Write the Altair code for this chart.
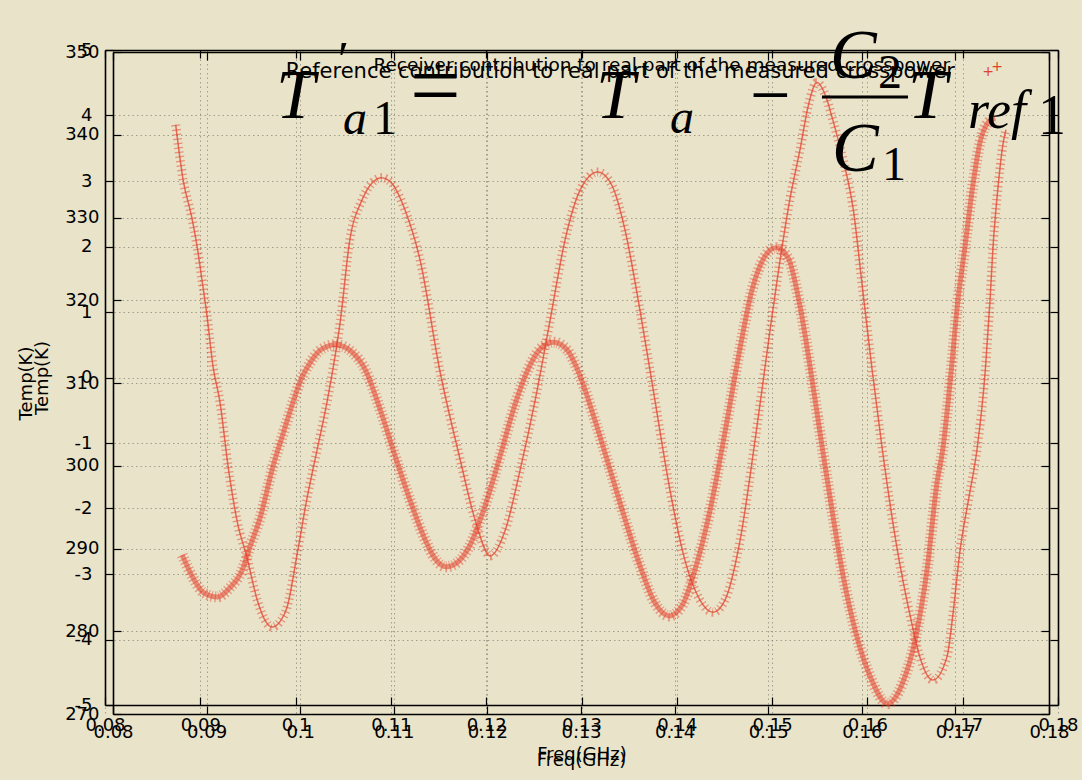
import altair as alt
import pandas as pd

# ---------------- data ----------------
# Curve on the Temp(K) 270-350 axis (sparse "+" markers)
freq_a = [0.0867, 0.0875, 0.0884, 0.0890, 0.0895, 0.0900, 0.0907, 0.0914, 0.0923, 0.0933,
          0.0943, 0.0954, 0.0962, 0.0970, 0.0978, 0.0986, 0.0997, 0.1007, 0.1018, 0.1029,
          0.1043, 0.1053, 0.1066, 0.1077, 0.1087, 0.1098, 0.1112, 0.1128, 0.1149, 0.1171,
          0.1187, 0.1203, 0.1219, 0.1235, 0.1251, 0.1267, 0.1283, 0.1299, 0.1318, 0.1333,
          0.1347, 0.1363, 0.1379, 0.1395, 0.1411, 0.1427, 0.1441, 0.1454, 0.1470, 0.1486,
          0.1502, 0.1516, 0.1523, 0.1534, 0.1543, 0.1552, 0.1561, 0.1569, 0.1580, 0.1591,
          0.1601, 0.1611, 0.1622, 0.1638, 0.1652, 0.1662, 0.1676, 0.1691, 0.1697, 0.1705,
          0.1714, 0.1723, 0.1732, 0.1737, 0.1740, 0.1746, 0.1751, 0.1754]
temp_a = [341.2, 334.5, 330.1, 326.4, 322.5, 318.5, 311.9, 307.9, 299.9, 293.1,
          289.0, 283.8, 281.4, 280.5, 281.1, 282.9, 289.5, 295.9, 301.9, 307.9,
          317.6, 327.3, 332.1, 334.2, 334.8, 334.1, 330.9, 324.9, 311.6, 300.7,
          293.4, 289.1, 292.2, 299.5, 307.9, 317.6, 327.3, 333.3, 335.5, 333.9,
          328.5, 318.8, 307.9, 297.1, 288.6, 283.8, 282.3, 283.8, 291.0, 303.1,
          316.4, 327.3, 332.1, 338.2, 343.6, 346.3, 344.8, 341.8, 337.0, 330.9,
          321.2, 311.6, 301.9, 289.8, 281.7, 276.9, 274.1, 276.9, 281.7, 289.8,
          295.9, 301.9, 311.6, 320.0, 326.1, 334.2, 339.0, 340.6]

# Curve on the -5..5 axis (dense "+" markers)
freq_b = [0.0881, 0.0892, 0.0903, 0.0918, 0.0931, 0.0944, 0.0952, 0.0963, 0.0976, 0.0987,
          0.0997, 0.1005, 0.1015, 0.1026, 0.1042, 0.1059, 0.1073, 0.1089, 0.1104, 0.1120,
          0.1136, 0.1146, 0.1158, 0.1170, 0.1183, 0.1199, 0.1215, 0.1230, 0.1246, 0.1259,
          0.1271, 0.1285, 0.1298, 0.1314, 0.1330, 0.1346, 0.1361, 0.1377, 0.1392, 0.1406,
          0.1419, 0.1435, 0.1451, 0.1466, 0.1479, 0.1492, 0.1504, 0.1517, 0.1529, 0.1542,
          0.1553, 0.1564, 0.1574, 0.1589, 0.1603, 0.1621, 0.1637, 0.1650, 0.1663, 0.1673,
          0.1679, 0.1687, 0.1695, 0.1702, 0.1711, 0.1718, 0.1727, 0.1734]
val_b = [-2.71, -3.05, -3.28, -3.35, -3.21, -2.94, -2.59, -2.13, -1.37, -0.85,
         -0.39, -0.05, 0.22, 0.42, 0.50, 0.39, 0.12, -0.50, -1.18, -1.87,
         -2.48, -2.76, -2.89, -2.82, -2.56, -1.95, -1.18, -0.42, 0.19, 0.47,
         0.54, 0.42, 0.04, -0.65, -1.41, -2.18, -2.86, -3.44, -3.64, -3.47,
         -2.94, -2.02, -0.80, 0.42, 1.34, 1.84, 1.98, 1.82, 1.11, -0.04,
         -1.11, -2.13, -2.99, -3.96, -4.57, -4.98, -4.66, -4.01, -2.89, -1.61,
         -1.11, -0.04, 1.18, 1.95, 2.97, 3.58, 3.90, 3.96]

x_ticks = [0.08, 0.09, 0.1, 0.11, 0.12, 0.13, 0.14, 0.15, 0.16, 0.17, 0.18]
ya_ticks = [270, 280, 290, 300, 310, 320, 330, 340, 350]
yb_ticks = [-5, -4, -3, -2, -1, 0, 1, 2, 3, 4, 5]
legend_texts = ["Receiver contribution to real part of the measured crosspower",
                "Reference contribution to real part of the measured crosspower"]
x_title = "Freq(GHz)"
y_title = "Temp(K)"
formula_parts = ["T", "\u2032", "a", "1", "=", "T", "a", "\u2212", "C", "2", "C", "1", "T", "ref", "1"]

# ---------------- styling ----------------
W, H = 953, 664          # plot group: x 105..1058, y 50..714
OX, OY = 105, 50
BG = "#E8E3C9"
RED = "#E4412C"
FONT = "DejaVu Sans"
SERIF = "Liberation Serif"
PLAIN = "datum.value + ''"   # plain hyphen-minus labels, as in the reference

dfa = pd.DataFrame({"f": freq_a, "t": temp_a})
dfb = pd.DataFrame({"f": freq_b, "v": val_b})

common = dict(domainColor="black", tickColor="black", labelColor="black",
              labelFont=FONT, labelFontSize=18, titleFont=FONT, titleFontSize=18,
              titleFontWeight="normal", titleColor="black", labelFlush=False,
              labelOverlap=False, labelBound=False, labelExpr=PLAIN)
grid = dict(grid=True, gridDash=[1.5, 3], gridColor="#7d7b70", gridOpacity=0.65, gridWidth=1)


def lab_x(offset, pad, ty):
    return alt.Axis(orient="bottom", offset=offset, values=x_ticks,
                    tickSize=0, labelPadding=pad, domainWidth=1.6, title=x_title,
                    titleY=ty, titleBaseline="alphabetic", **grid, **common)


def lab_y(offset, vals, pad, tx):
    return alt.Axis(orient="left", offset=offset, values=vals,
                    tickSize=0, labelPadding=pad, domainWidth=1.6, title=y_title,
                    titleX=tx, titleAngle=270, titleBaseline="alphabetic", **grid, **common)


def tick_axis(orient, offset, vals, domain):
    return alt.Axis(orient=orient, offset=offset, values=vals, labels=False, title=None,
                    grid=False, domain=domain, domainWidth=1.6, tickSize=8, tickWidth=1.2,
                    domainColor="black", tickColor="black")


# scales
sxB = alt.Scale(domain=[0.08, 0.18], range=[0, W], nice=False, zero=False)
syB = alt.Scale(domain=[-5, 5], range=[655, 0], nice=False, zero=False)
sxA = alt.Scale(domain=[0.08, 0.18], range=[8, 944], nice=False, zero=False)
syA = alt.Scale(domain=[270, 350], range=[664, 2], nice=False, zero=False)

# box B (-5..5)
b_frame = alt.Chart(dfb).mark_line(strokeOpacity=0).encode(
    x=alt.X("f:Q", scale=sxB, axis=tick_axis("bottom", -664, x_ticks, True)),
    y=alt.Y("v:Q", scale=syB, axis=tick_axis("left", -W, yb_ticks, True)))
b_line = alt.Chart(dfb).mark_line(color=RED, strokeWidth=5, opacity=0.55,
                                  interpolate="monotone").encode(
    x=alt.X("f:Q", scale=sxB, axis=lab_x(-9, 11, 54)),
    y=alt.Y("v:Q", scale=syB, axis=lab_y(0, yb_ticks, 13, -58)))
b_cross = alt.Chart(dfb).mark_line(color=RED, strokeWidth=11, opacity=0.45,
                                   strokeDash=[1.3, 2.4], interpolate="monotone").encode(
    x=alt.X("f:Q", scale=sxB, axis=tick_axis("top", -655, x_ticks, False)),
    y=alt.Y("v:Q", scale=syB, axis=tick_axis("right", -W, yb_ticks, False)))

# box A (270..350)
a_frame = alt.Chart(dfa).mark_line(strokeOpacity=0).encode(
    x=alt.X("f:Q", scale=sxA, axis=tick_axis("bottom", -662, x_ticks, True)),
    y=alt.Y("t:Q", scale=syA, axis=tick_axis("left", -944, ya_ticks, True)))
a_line = alt.Chart(dfa).mark_line(color=RED, strokeWidth=1.5, opacity=0.75,
                                  interpolate="monotone").encode(
    x=alt.X("f:Q", scale=sxA, axis=lab_x(0, 9, 51)),
    y=alt.Y("t:Q", scale=syA, axis=lab_y(-8, ya_ticks, 14, -82)))
a_cross = alt.Chart(dfa).mark_line(color=RED, strokeWidth=9, opacity=0.5,
                                   strokeDash=[1.3, 3.2], interpolate="monotone").encode(
    x=alt.X("f:Q", scale=sxA, axis=tick_axis("top", -664, x_ticks, False)),
    y=alt.Y("t:Q", scale=syA, axis=tick_axis("right", -945, ya_ticks, False)))


def txt(s, x, y, size, italic=False, font=SERIF, color="black", align="left",
        baseline="alphabetic"):
    return alt.Chart(pd.DataFrame({"s": [s]})).mark_text(
        align=align, baseline=baseline, font=font, fontSize=size,
        fontStyle="italic" if italic else "normal", color=color).encode(
        x=alt.value(x - OX), y=alt.value(y - OY), text="s:N")


annot = [
    txt(legend_texts[0], 950, 71, 18.5, font=FONT, align="right"),
    txt(legend_texts[1], 955, 78, 21, font=FONT, align="right"),
    txt("+", 997, 67, 14, font=FONT, color=RED, align="center", baseline="middle"),
    txt("+", 988, 72, 14, font=FONT, color=RED, align="center", baseline="middle"),
]

fp = formula_parts
formula = [
    txt(fp[0], 276, 118, 70, italic=True),
    txt(fp[1], 338, 76, 50),
    txt(fp[2], 343, 134, 48, italic=True),
    txt(fp[3], 373, 134, 48),
    txt(fp[4], 410, 116, 90),
    txt(fp[5], 596, 118, 70, italic=True),
    txt(fp[6], 670, 133, 48, italic=True),
    txt(fp[7], 750, 119, 72),
    txt(fp[8], 830, 78, 70, italic=True),
    txt(fp[9], 878, 88, 48),
    txt(fp[10], 832, 171, 70, italic=True),
    txt(fp[11], 882, 180, 48),
    txt(fp[12], 908, 118, 70, italic=True),
    txt(fp[13], 968, 128, 54, italic=True),
    txt(fp[14], 1038, 134, 56),
]
frac_bar = alt.Chart(pd.DataFrame({"s": [0]})).mark_rule(color="black", strokeWidth=3).encode(
    x=alt.value(822 - OX), x2=alt.value(908 - OX), y=alt.value(97 - OY))

chart = alt.layer(b_frame, a_frame, b_line, b_cross, a_line, a_cross, *annot, *formula,
                  frac_bar).resolve_scale(x="independent", y="independent").properties(
    width=W, height=H,
    autosize=alt.AutoSizeParams(type="none"),
    padding={"left": OX, "top": OY, "right": 1082 - OX - W, "bottom": 780 - OY - H},
    background=BG,
).configure_view(stroke=None)

chart.save("out.html", embed_options={"renderer": "svg", "actions": False})
